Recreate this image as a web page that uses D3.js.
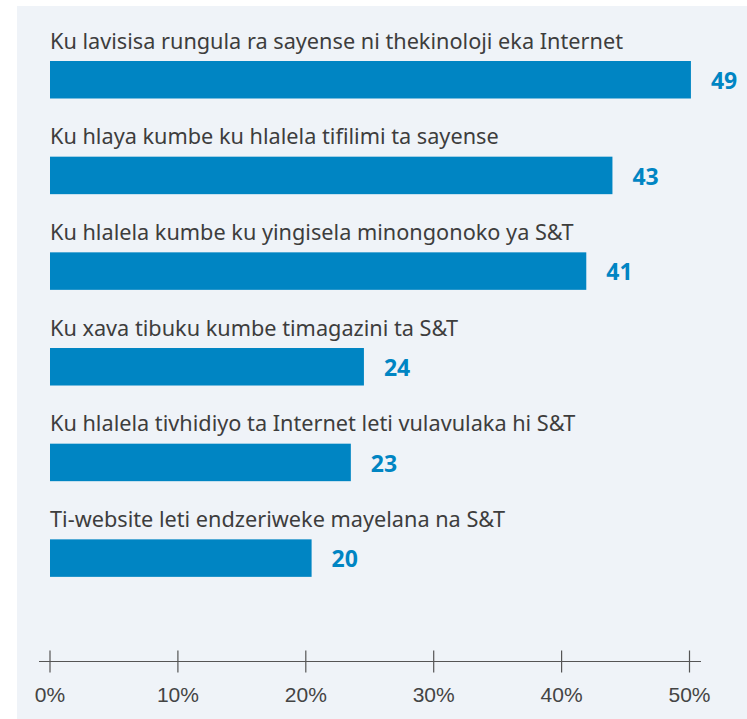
<!DOCTYPE html>
<html>
<head>
<meta charset="utf-8">
<script src="https://cdn.jsdelivr.net/npm/d3@7"></script>
<style>
  body { margin: 0; background: #fff; }
  svg { display: block; }
  .cat-label { font-family: "Noto Sans", sans-serif; font-size: 21.7px; fill: #3d3d3d; }
  .val-label { font-family: "Noto Sans", sans-serif; font-size: 23px; font-weight: bold; fill: #0085c3; }
  .tick-label { font-family: "Liberation Sans Narrow", "Liberation Sans", sans-serif; font-size: 21px; fill: #444; }
</style>
</head>
<body>
<svg id="chart" width="747" height="719"></svg>
<script>
var categories = [
  "Ku lavisisa rungula ra sayense ni thekinoloji eka Internet",
  "Ku hlaya kumbe ku hlalela tifilimi ta sayense",
  "Ku hlalela kumbe ku yingisela minongonoko ya S&T",
  "Ku xava tibuku kumbe timagazini ta S&T",
  "Ku hlalela tivhidiyo ta Internet leti vulavulaka hi S&T",
  "Ti-website leti endzeriweke mayelana na S&T"
];
var values = [49, 43, 41, 24, 23, 20];
var tickValues = [0, 10, 20, 30, 40, 50];

var svg = d3.select("#chart");

// panel background
svg.append("rect")
    .attr("x", 17).attr("y", 6)
    .attr("width", 730).attr("height", 713)
    .attr("fill", "#eff3f8");

var data = categories.map(function(c, i) { return {cat: c, val: values[i]}; });

// bars in the original are drawn a little longer than the axis suggests
var x_bar = d3.scaleLinear().domain([0, 50]).range([50, 704]);
var x_axis = d3.scaleLinear().domain([0, 50]).range([50, 689.5]);
var y = d3.scaleBand().domain(categories).range([61, 61 + 6 * 95.67]);
var barH = 37.5;

var g = svg.append("g");

g.selectAll(".bar")
    .data(data)
  .enter().append("rect")
    .attr("class", "bar")
    .attr("x", x_bar(0))
    .attr("y", function(d) { return y(d.cat); })
    .attr("width", function(d) { return x_bar(d.val) - x_bar(0); })
    .attr("height", barH)
    .attr("fill", "#0085c3");

g.selectAll(".cat-label")
    .data(data)
  .enter().append("text")
    .attr("class", "cat-label")
    .attr("x", x_bar(0))
    .attr("y", function(d) { return y(d.cat) - 12.5; })
    .text(function(d) { return d.cat; });

g.selectAll(".val-label")
    .data(data)
  .enter().append("text")
    .attr("class", "val-label")
    .attr("x", function(d) { return x_bar(d.val) + 20; })
    .attr("y", function(d) { return y(d.cat) + 28; })
    .text(function(d) { return d.val; });

// axis
var axisY = 661.5;
var ax = svg.append("g").attr("transform", "translate(0," + axisY + ")");

ax.append("line")
    .attr("x1", 39).attr("x2", 701)
    .attr("y1", 0).attr("y2", 0)
    .attr("stroke", "#555").attr("stroke-width", 1.2);

ax.selectAll(".tick")
    .data(tickValues)
  .enter().append("line")
    .attr("class", "tick")
    .attr("x1", function(d) { return x_axis(d); })
    .attr("x2", function(d) { return x_axis(d); })
    .attr("y1", -11).attr("y2", 11)
    .attr("stroke", "#555").attr("stroke-width", 1.2);

ax.selectAll(".tick-label")
    .data(tickValues)
  .enter().append("text")
    .attr("class", "tick-label")
    .attr("x", function(d) { return x_axis(d); })
    .attr("y", 40)
    .attr("text-anchor", "middle")
    .text(function(d) { return d + "%"; });
</script>
</body>
</html>
